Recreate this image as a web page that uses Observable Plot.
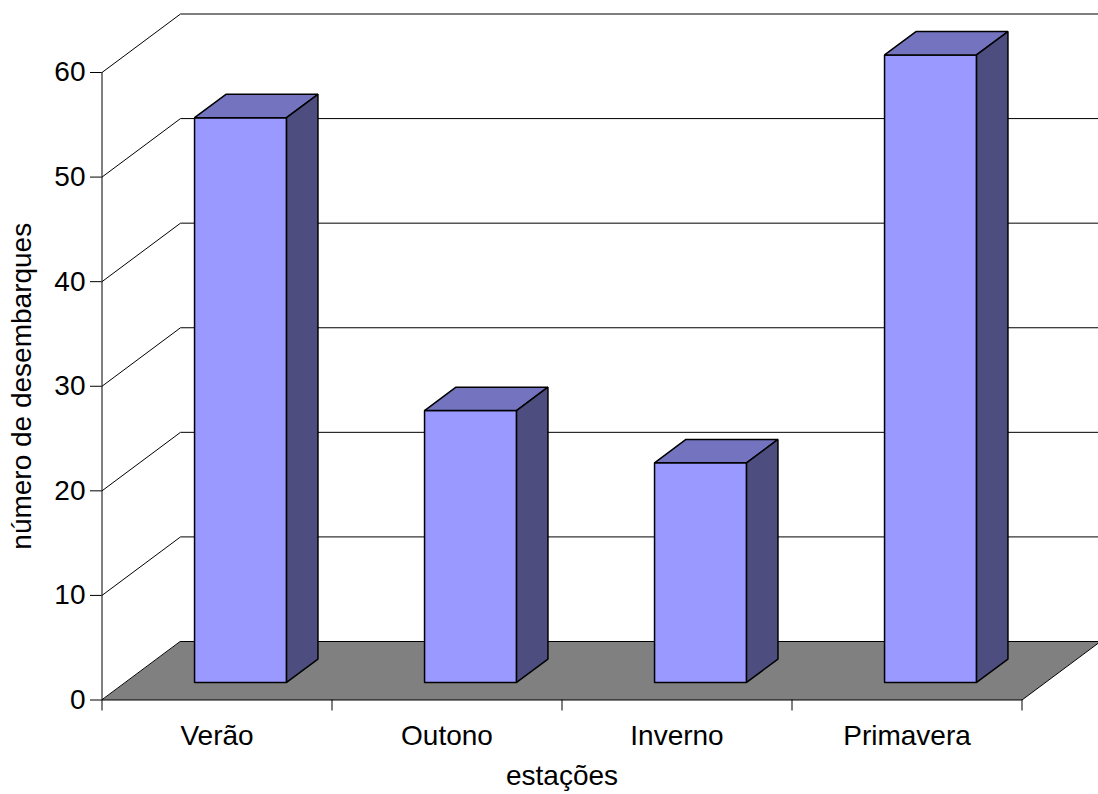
<!DOCTYPE html>
<html>
<head>
<meta charset="utf-8">
<script src="https://cdn.jsdelivr.net/npm/d3@7"></script>
<script src="https://cdn.jsdelivr.net/npm/@observablehq/plot@0.6"></script>
<style>
  html, body { margin: 0; padding: 0; background: #fff; overflow: hidden; }
  #chart svg { display: block; }
</style>
</head>
<body>
<div id="chart"></div>
<script>
// Landings per season
const categories = ["Verão", "Outono", "Inverno", "Primavera"];
const values = [54, 26, 21, 60];
const yTicks = [0, 10, 20, 30, 40, 50, 60];
const xLabel = "estações";
const yLabel = "número de desembarques";

const width = 1098, height = 794;
const margin = {top: 72, right: 76.5, bottom: 94.5, left: 101.5};
const yMax = 60;
const n = categories.length;

// Oblique depth of the 3-D box (pixels), converted to scale units
const depthPx = {x: 78.5, y: 58.5};
const bandPx = (width - margin.left - margin.right) / n;
const unitPx = (height - margin.top - margin.bottom) / yMax;
const DX = depthPx.x / bandPx;
const DY = depthPx.y / unitPx;

// project (category position, value, depth 0..1) onto the x/y scales
const P = (c, v, d) => ({x: c + d * DX, y: v + d * DY});

// floor of the box
const floor = [P(0, 0, 0), P(n, 0, 0), P(n, 0, 1), P(0, 0, 1)];

// gridlines: across the side wall, then along the back wall
const grid = yTicks.filter(t => t > 0)
  .flatMap(t => [P(0, t, 0), P(0, t, 1), P(n, t, 1)].map(p => ({...p, t})));

// each column occupies the middle of its band and of the depth
const col = {x0: 0.3, x1: 0.7, d0: 0.3, d1: 0.7};
function faces(kind) {
  return values.flatMap((v, i) => {
    const a = i + col.x0, b = i + col.x1;
    let pts;
    if (kind === "front") pts = [P(a, 0, col.d0), P(b, 0, col.d0), P(b, v, col.d0), P(a, v, col.d0)];
    if (kind === "top")   pts = [P(a, v, col.d0), P(b, v, col.d0), P(b, v, col.d1), P(a, v, col.d1)];
    if (kind === "side")  pts = [P(b, 0, col.d0), P(b, 0, col.d1), P(b, v, col.d1), P(b, v, col.d0)];
    return pts.map(p => ({...p, key: categories[i]}));
  });
}

const faceStyle = {x: "x", y: "y", z: "key", curve: "linear-closed", stroke: "black", strokeWidth: 1.5, strokeLinejoin: "miter"};

const chart = Plot.plot({
  width, height,
  marginTop: margin.top, marginRight: margin.right,
  marginBottom: margin.bottom, marginLeft: margin.left,
  style: {fontFamily: "'Liberation Sans', Arial, sans-serif", fontSize: "28px", background: "#fff", color: "black"},
  x: {type: "linear", domain: [0, n]},
  y: {type: "linear", domain: [0, yMax]},
  marks: [
    Plot.line(floor, {x: "x", y: "y", curve: "linear-closed", fill: "#808080", stroke: "black", strokeWidth: 1}),
    Plot.line(grid, {x: "x", y: "y", z: "t", stroke: "black", strokeWidth: 1}),
    Plot.line(faces("front"), {...faceStyle, fill: "#9999FF"}),
    Plot.line(faces("top"), {...faceStyle, fill: "#7373BF"}),
    Plot.line(faces("side"), {...faceStyle, fill: "#4D4D80"}),
    Plot.ruleX([0], {y1: 0, y2: yMax, stroke: "black", strokeWidth: 1}),
    Plot.axisY({ticks: yTicks, tickSize: 11.5, tickPadding: 5, fontSize: 28, label: null}),
    Plot.axisX({ticks: d3.range(n + 1), tickSize: 11, tickFormat: () => "", label: null}),
    Plot.axisX({
      ticks: categories.map((_, i) => i + 0.5),
      tickSize: 0, tickPadding: 25.5, fontSize: 28, label: null,
      tickFormat: d => categories[Math.floor(d)]
    }),
    Plot.text([xLabel], {x: n / 2, frameAnchor: "bottom", lineAnchor: "bottom", dy: 85, fontSize: 28, text: d => d}),
    Plot.text([yLabel], {frameAnchor: "left", textAnchor: "middle", rotate: -90, lineAnchor: "bottom", dx: -71.5, fontSize: 28, text: d => d})
  ]
});

document.getElementById("chart").appendChild(chart);
</script>
</body>
</html>
